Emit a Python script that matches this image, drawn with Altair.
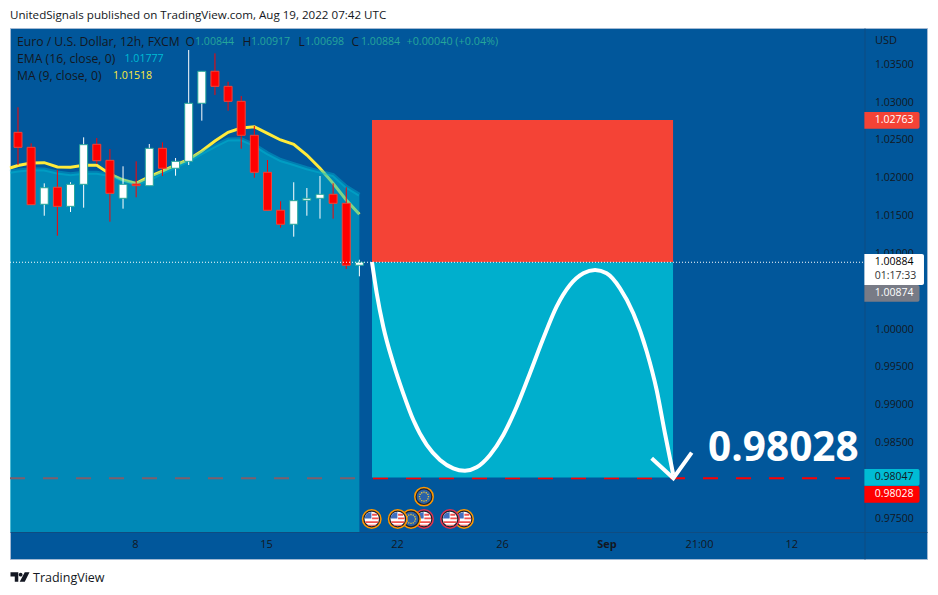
import math
import altair as alt
import pandas as pd

# candles, prices
OPEN = [1.02601,1.02403,1.01650,1.01875,1.01623,1.01914,1.02443,1.02231,1.01729,1.01918,1.01895,1.02390,1.02126,1.02218,1.02985,1.03408,1.03209,1.03011,1.02562,1.02073,1.01571,1.01386,1.01703,1.01729,1.01782,1.01663,1.00844]
HIGH = [1.02932,1.02456,1.01927,1.02103,1.01941,1.02535,1.02526,1.02381,1.02152,1.02218,1.02447,1.02469,1.02262,1.03689,1.03408,1.03645,1.03270,1.03081,1.02685,1.02235,1.01690,1.01941,1.01865,1.02024,1.01927,1.01875,1.00917]
LOW = [1.02169,1.01641,1.01499,1.01235,1.01548,1.01605,1.02182,1.01420,1.01592,1.01742,1.01895,1.02024,1.02028,1.02169,1.02755,1.03094,1.02887,1.02385,1.02001,1.01565,1.01341,1.01222,1.01499,1.01460,1.01460,1.00795,1.00698]
CLOSE = [1.02403,1.01645,1.01869,1.01623,1.01914,1.02438,1.02226,1.01795,1.01914,1.01896,1.02390,1.02126,1.02218,1.02985,1.03408,1.03209,1.03011,1.02562,1.02073,1.01571,1.01386,1.01698,1.01729,1.01782,1.01663,1.00844,1.00884]
IS_UP = [0,0,1,0,1,1,0,0,1,0,1,0,1,1,1,0,0,0,0,0,0,1,1,1,0,0,1]

LINE_X = [-0.609] + list(range(27))
MA9 = [1.02130,1.02163,1.02196,1.02200,1.02143,1.02139,1.02165,1.02165,1.02050,1.01971,1.01927,1.02015,1.02090,1.02169,1.02242,1.02354,1.02486,1.02601,1.02658,1.02675,1.02588,1.02500,1.02443,1.02301,1.02126,1.01927,1.01707,1.01518]
EMA16 = [1.02081,1.02097,1.02112,1.02110,1.02070,1.02046,1.02068,1.02068,1.02037,1.01971,1.01918,1.01980,1.02068,1.02147,1.02229,1.02328,1.02420,1.02506,1.02509,1.02434,1.02324,1.02235,1.02182,1.02126,1.02081,1.02037,1.01883,1.01777]

CURVE_X = [26.96,27.32,27.82,28.58,29.34,30.11,31.13,32.14,33.15,34.04,34.93,35.95,36.96,37.98,38.99,40.01,41.02,42.04,43.06,43.95,44.83,45.85,46.86,47.89,48.64,49.27,49.91]
CURVE_P = [1.00887,1.00474,1.00032,0.99549,0.99152,0.98799,0.98469,0.98271,0.98161,0.98129,0.98174,0.98337,0.98601,0.98975,0.99417,0.99879,1.00297,1.00583,1.00738,1.00782,1.00738,1.00540,1.00210,0.99702,0.99196,0.98624,0.98073]
ARROW_X = [48.26,49.91,51.31]
ARROW_P = [0.98293,0.98030,0.98367]

BOX_X = [26.96,49.89]
STOP = 1.02763
ENTRY = 1.00884
TARGET = 0.98040
TARGET_LINE = 0.98028

PANE_RIGHT = 64.46
PANE_BOTTOM = 0.97319
X_DOMAIN = [-0.609, 69.23]
Y_DOMAIN = [0.96962, 1.03980]

Y_TICKS = [1.035,1.03,1.025,1.02,1.015,1.01,1.0,0.995,0.99,0.985,0.975]
X_TICKS = [8.91,18.89,28.86,36.86,44.82,51.86,58.9]
X_LABELS = ["8","15","22","26","Sep","21:00","12"]

TAG_TOP = [1.02870,1.00993,1.00583,0.98152,0.97927]
TAG_BOTTOM = [1.02649,1.00583,1.00363,0.97931,0.97707]
TAG_RIGHT = [68.66,69.0,68.66,68.66,68.66]
TAG_FILL = ["#f44336","#ffffff","#787b86","#00bcd4","#ff0000"]
TAG_TEXT = ["1.02763","1.00884","01:17:33","1.00874","0.98047","0.98028"]
TAG_TEXT_P = [1.02760,1.00884,1.00702,1.00474,0.98041,0.97817]
TAG_TEXT_COLOR = ["#ffffff","#000000","#333333","#ffffff","#131722","#ffffff"]

ICON_X = [33.97,32.90,30.92,30.92,29.93,28.92,26.94]
ICON_P = [0.97491,0.97491,0.97491,0.97786,0.97491,0.97491,0.97491]
ICON_KIND = ["us","us","us","eu","eu","us","us"]
ICON_RING = ["#ff9800","#e0334f","#e0334f","#ff9800","#ff9800","#ff9800","#ff9800"]

FONT = "Open Sans"
DARK = "#131722"
BLUE = "#01579b"
GREEN = "#26a69a"

xs = alt.Scale(domain=X_DOMAIN, nice=False, zero=False, padding=0)
ys = alt.Scale(domain=Y_DOMAIN, nice=False, zero=False, padding=0)

label_map = "{" + ",".join(f"'{v}':'{t}'" for v, t in zip(X_TICKS, X_LABELS)) + "}"
x_axis = alt.Axis(
    orient="bottom", offset=-27, values=X_TICKS, grid=False, ticks=False, labelPadding=6,
    labelFont=FONT, labelFontSize=11, labelColor=DARK, domainColor="#0f4c81",
    labelExpr=f"{label_map}[''+datum.value]", labelOverlap=False,
    labelFontWeight=alt.condition(f"datum.value == {X_TICKS[4]}", alt.value("bold"), alt.value("normal")),
)
y_axis = alt.Axis(
    orient="right", offset=-62.5, values=Y_TICKS, grid=False, ticks=False, labelPadding=10,
    labelFont=FONT, labelFontSize=10.5, labelColor=DARK, domainColor="#0f4c81", format=".5f", labelOverlap=False,
)


def X(f="x"):
    return alt.X(f"{f}:Q", scale=xs, axis=x_axis, title=None)


def Y(f="y"):
    return alt.Y(f"{f}:Q", scale=ys, axis=y_axis, title=None)


candles = pd.DataFrame({"x": list(range(27)), "o": OPEN, "h": HIGH, "l": LOW, "c": CLOSE, "up": IS_UP})
candles["top"] = candles[["o", "c"]].max(axis=1)
candles["bot"] = candles[["o", "c"]].min(axis=1)
lines = pd.DataFrame({"x": LINE_X, "ma": MA9, "ema": EMA16, "base": PANE_BOTTOM})

layers = []

# target line, under the area
dash_df = pd.DataFrame({"x": [X_DOMAIN[0], PANE_RIGHT], "y": [TARGET_LINE, TARGET_LINE]})
layers.append(alt.Chart(dash_df).mark_line(color="#ff0000", strokeWidth=2, strokeDash=[15, 18]).encode(x=X(), y=Y()))

# MA and the EMA area
layers.append(alt.Chart(lines).mark_line(color="#ffeb3b", strokeWidth=3).encode(x=X(), y=Y("ma")))
layers.append(alt.Chart(lines).mark_area(color="#00bcd4", opacity=0.5).encode(x=X(), y=Y("ema"), y2="base:Q"))
layers.append(alt.Chart(lines).mark_line(color="#00bcd4", strokeWidth=4, opacity=0.4).encode(x=X(), y=Y("ema")))

# candles
for up, wick, fill, edge in [(0, "#ff0000", "#ff0000", "#f44336"), (1, "#ffffff", "#ffffff", GREEN)]:
    part = candles[candles["up"] == up]
    layers.append(alt.Chart(part).mark_rule(strokeWidth=1, color=wick).encode(x=X(), y=Y("l"), y2="h:Q"))
    layers.append(alt.Chart(part).mark_bar(size=8, strokeWidth=1, orient="vertical", fill=fill, stroke=edge).encode(
        x=X(), y=Y("bot"), y2="top:Q"))

# position boxes
for top, bottom, fill in [(STOP, ENTRY, "#f44336"), (ENTRY, TARGET, "#00afcd")]:
    box_df = pd.DataFrame({"x": [BOX_X[0]], "x2": [BOX_X[1]], "y": [bottom], "y2": [top]})
    layers.append(alt.Chart(box_df).mark_rect(fill=fill).encode(x=X(), x2="x2:Q", y=Y(), y2="y2:Q"))

# last-price dotted line
dot_df = pd.DataFrame({"x": [X_DOMAIN[0], PANE_RIGHT], "y": [ENTRY, ENTRY]})
layers.append(alt.Chart(dot_df).mark_line(color="#ffffff", strokeWidth=1, strokeDash=[1, 2]).encode(x=X(), y=Y()))

# drawn path and arrow
curve_df = pd.DataFrame({"x": CURVE_X, "y": CURVE_P})
layers.append(alt.Chart(curve_df).mark_line(color="#ffffff", strokeWidth=4, interpolate="monotone").encode(x=X(), y=Y()))
arrow_df = pd.DataFrame({"x": ARROW_X, "y": ARROW_P})
layers.append(alt.Chart(arrow_df).mark_line(color="#ffffff", strokeWidth=4).encode(x=X(), y=Y()))

# big label
layers.append(alt.Chart(pd.DataFrame({"x": [52.56], "y": [0.98417], "t": ["0.98028"]})).mark_text(
    align="left", baseline="middle", font=FONT, fontSize=40.5, fontWeight="bold", color="#ffffff"
).encode(x=X(), y=Y(), text="t:N"))

# price tags
for bottom, top, right, fill in zip(TAG_BOTTOM, TAG_TOP, TAG_RIGHT, TAG_FILL):
    tag_df = pd.DataFrame({"x": [PANE_RIGHT], "x2": [right], "y": [bottom], "y2": [top]})
    layers.append(alt.Chart(tag_df).mark_rect(fill=fill, cornerRadiusTopRight=2, cornerRadiusBottomRight=2).encode(
        x=X(), x2="x2:Q", y=Y(), y2="y2:Q"))
for t, p, c in zip(TAG_TEXT, TAG_TEXT_P, TAG_TEXT_COLOR):
    tag_txt = pd.DataFrame({"x": [65.25], "y": [p], "t": [t]})
    layers.append(alt.Chart(tag_txt).mark_text(align="left", baseline="middle", font=FONT, fontSize=10.5, color=c).encode(
        x=X(), y=Y(), text="t:N"))

# event icons
US_RED = ("M0.05,-0.72H0.72V-0.46H0.05Z M0.05,-0.2H0.96V0.05H0.05Z M-0.9,0.3H0.9V0.55H-0.9Z M-0.55,0.78H0.55V0.92H-0.55Z")
US_BLUE = "M-0.95,-0.05 L-0.9,-0.45 L-0.6,-0.8 L-0.05,-0.97 L-0.05,-0.05Z"
EU_DOTS = " ".join(
    f"M{0.62*math.cos(a*math.pi/6)-0.09:.3f},{0.62*math.sin(a*math.pi/6)-0.09:.3f}h0.18v0.18h-0.18Z" for a in range(12)
)
for ix, ip, kind, ring in zip(ICON_X, ICON_P, ICON_KIND, ICON_RING):
    d = pd.DataFrame({"x": [ix], "y": [ip]})
    base = alt.Chart(d).encode(x=X(), y=Y())
    layers.append(base.mark_point(shape="circle", size=340, filled=True, fill="#1e222d", stroke=ring, strokeWidth=1.5, opacity=1))
    if kind == "us":
        layers.append(base.mark_point(shape="circle", size=210, filled=True, fill="#ffffff", opacity=1))
        layers.append(base.mark_point(shape=US_RED, size=210, filled=True, fill="#ef5350", opacity=1))
        layers.append(base.mark_point(shape=US_BLUE, size=210, filled=True, fill="#3f6fc0", opacity=1))
    else:
        layers.append(base.mark_point(shape="circle", size=210, filled=True, fill="#2962a8", opacity=1))
        layers.append(base.mark_point(shape=EU_DOTS, size=210, filled=True, fill="#e8c33a", opacity=1))

# legend rows and footer: (text, left, centre row, colour, size), relative to the plot area
LEGEND = [
    ("Euro / U.S. Dollar, 12h, FXCM", 7, 13.5, DARK, 12.2),
    ("O", 175.5, 13.5, DARK, 12), ("1.00844", 185, 13.5, GREEN, 10.6),
    ("H", 232.5, 13.5, DARK, 12), ("1.00917", 241, 13.5, GREEN, 10.6),
    ("L", 288.5, 13.5, DARK, 12), ("1.00698", 295, 13.5, GREEN, 10.6),
    ("C", 341.5, 13.5, DARK, 12), ("1.00884", 351, 13.5, GREEN, 10.6),
    ("+0.00040 (+0.04%)", 396.5, 13.5, GREEN, 10.8),
    ("EMA (16, close, 0)", 7, 31, DARK, 12.2), ("1.01777", 114.5, 31, "#00bcd4", 10.6),
    ("MA (9, close, 0)", 7, 48, DARK, 12.2), ("1.01518", 103, 48, "#ffeb3b", 10.6),
    ("USD", 865, 13, DARK, 11),
]
for t, lx, ly, c, fs in LEGEND:
    layers.append(alt.Chart(pd.DataFrame({"t": [t]})).mark_text(
        align="left", baseline="middle", font=FONT, fontSize=fs, color=c
    ).encode(text="t:N", x=alt.value(lx), y=alt.value(ly)))

LOGO = ("M-1,-0.5H-0.18V0.5H-0.55V-0.05H-1Z M0.5,-0.5H1L0.5,0.5H-0.03Z M0.27,-0.25A0.2,0.2 0 1 1 -0.13,-0.25A0.2,0.2 0 1 1 0.27,-0.25Z")
layers.append(alt.Chart(pd.DataFrame({"t": ["x"]})).mark_point(shape=LOGO, size=361, filled=True, fill=DARK, opacity=1).encode(
    x=alt.value(10), y=alt.value(549)))
layers.append(alt.Chart(pd.DataFrame({"t": ["TradingView"]})).mark_text(
    align="left", baseline="middle", font=FONT, fontSize=12.5, color=DARK
).encode(text="t:N", x=alt.value(23), y=alt.value(550)))

chart = alt.layer(*layers).properties(
    width=917,
    height=531,
    autosize=alt.AutoSizeParams(type="none"),
    padding={"left": 2, "top": 20, "right": 3, "bottom": 30},
    title=alt.TitleParams(
        text="UnitedSignals published on TradingView.com, Aug 19, 2022 07:42 UTC",
        anchor="start", frame="group", font=FONT, fontSize=11.6, fontWeight="normal", color=DARK, offset=6,
    ),
    background="#ffffff",
).configure_view(fill=BLUE, stroke="#a3b9d3", strokeWidth=1)

chart.save("out.html", embed_options={"renderer": "svg", "actions": False})
